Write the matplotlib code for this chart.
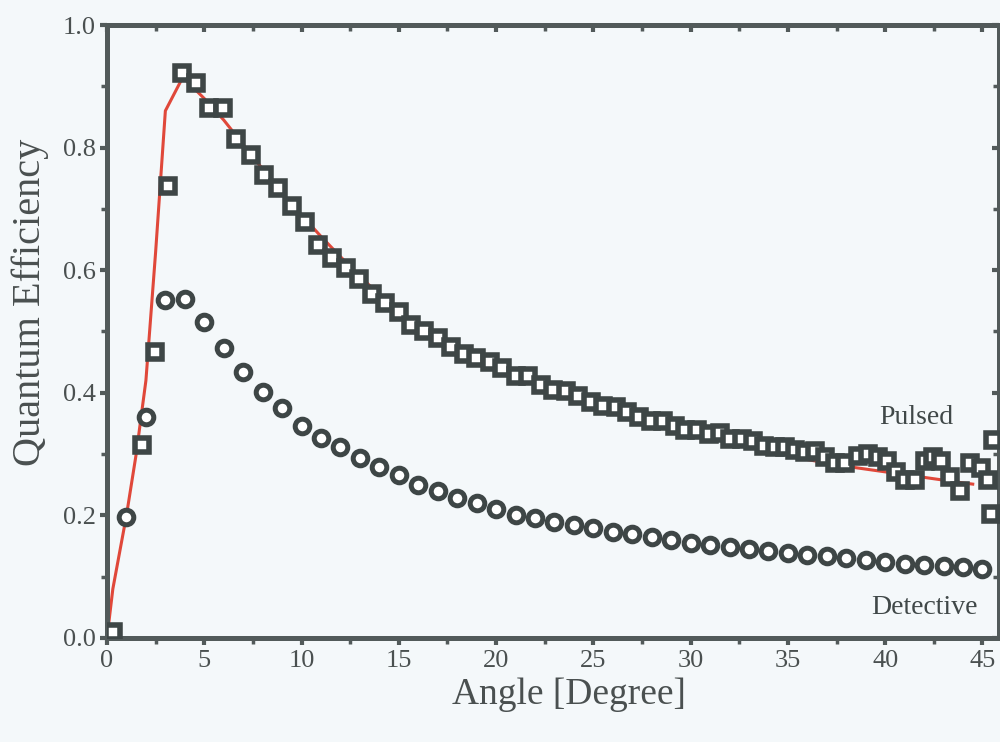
import matplotlib
matplotlib.use("Agg")
import matplotlib.pyplot as plt
from matplotlib.ticker import MultipleLocator

# Detective quantum efficiency (circles), one point per degree
det_x = [1, 2, 3, 4, 5, 6, 7, 8, 9, 10, 11, 12, 13, 14, 15, 16, 17, 18, 19, 20,
         21, 22, 23, 24, 25, 26, 27, 28, 29, 30, 31, 32, 33, 34, 35, 36, 37, 38,
         39, 40, 41, 42, 43, 44, 45]
det_y = [0.198, 0.361, 0.552, 0.553, 0.516, 0.473, 0.434, 0.402, 0.375, 0.346,
         0.326, 0.311, 0.293, 0.279, 0.266, 0.250, 0.239, 0.228, 0.220, 0.210,
         0.201, 0.195, 0.190, 0.184, 0.179, 0.173, 0.169, 0.164, 0.160, 0.155,
         0.151, 0.148, 0.145, 0.142, 0.139, 0.136, 0.133, 0.130, 0.127, 0.124,
         0.121, 0.119, 0.117, 0.115, 0.112]

# Pulsed quantum efficiency (squares)
pul_x = [0.3, 1.78, 2.46, 3.14, 3.88, 4.56, 5.23, 5.96, 6.65, 7.38, 8.05, 8.77,
         9.49, 10.19, 10.86, 11.54, 12.26, 12.96, 13.63, 14.31, 14.99, 15.63,
         16.31, 16.99, 17.68, 18.36, 18.99, 19.68, 20.32, 21.01, 21.66, 22.29,
         22.94, 23.57, 24.22, 24.86, 25.49, 26.14, 26.73, 27.33, 27.98, 28.56,
         29.18, 29.73, 30.32, 30.92, 31.52, 32.03, 32.63, 33.23, 33.79, 34.34,
         34.85, 35.37, 35.88, 36.40, 36.90, 37.42, 37.93, 38.62, 39.13, 39.64,
         40.07, 40.58, 41.00, 41.52, 42.04, 42.46, 42.89, 43.32, 43.83, 44.34,
         44.94, 45.28, 45.45, 45.54]
pul_y = [0.010, 0.315, 0.467, 0.737, 0.922, 0.905, 0.865, 0.865, 0.814, 0.788,
         0.755, 0.734, 0.705, 0.679, 0.641, 0.620, 0.603, 0.586, 0.561, 0.546,
         0.532, 0.510, 0.500, 0.489, 0.475, 0.464, 0.456, 0.450, 0.440, 0.427,
         0.427, 0.412, 0.405, 0.403, 0.394, 0.385, 0.378, 0.377, 0.368, 0.361,
         0.354, 0.354, 0.345, 0.340, 0.339, 0.332, 0.335, 0.324, 0.324, 0.321,
         0.313, 0.312, 0.312, 0.307, 0.304, 0.305, 0.296, 0.285, 0.286, 0.297,
         0.300, 0.295, 0.288, 0.271, 0.258, 0.258, 0.288, 0.296, 0.288, 0.263,
         0.239, 0.285, 0.277, 0.258, 0.203, 0.323]

# Model curve (red line)
fit_x = [0, 0.3, 1.0, 1.5, 2.0, 2.5, 3.0, 3.9, 5, 6, 7, 8, 9, 10, 11, 12, 13, 14,
         15, 16, 17, 18, 19, 20, 22, 24, 26, 28, 30, 32, 34, 36, 38, 40, 42, 44, 44.5]
fit_y = [0.0, 0.08, 0.20, 0.30, 0.42, 0.63, 0.86, 0.915, 0.88, 0.845, 0.805,
         0.765, 0.725, 0.69, 0.655, 0.622, 0.59, 0.56, 0.533, 0.508, 0.488,
         0.470, 0.455, 0.441, 0.416, 0.395, 0.376, 0.357, 0.340, 0.323, 0.306,
         0.291, 0.280, 0.271, 0.262, 0.253, 0.251]

x_ticks = [0, 5, 10, 15, 20, 25, 30, 35, 40, 45]
y_ticks = [0.0, 0.2, 0.4, 0.6, 0.8, 1.0]

bg = "#f4f8fa"
dark = "#3e4646"
spine_c = "#525a5a"

plt.rcParams['font.family'] = ['Liberation Serif', 'DejaVu Serif']

fig = plt.figure(figsize=(10, 7.42), dpi=100, facecolor=bg)
ax = fig.add_axes([0.107, 0.1402, 0.892, 0.8261], facecolor=bg)

ax.plot(fit_x, fit_y, color="#e0483a", lw=2.2, zorder=2)
ax.plot(pul_x, pul_y, linestyle='none', marker='s', markersize=10.5,
        markerfacecolor='white', markeredgecolor=dark, markeredgewidth=4.0, zorder=3)
ax.plot(det_x, det_y, linestyle='none', marker='o', markersize=10.5,
        markerfacecolor='white', markeredgecolor=dark, markeredgewidth=3.6, zorder=3)

ax.set_xlim(0, 45.85)
ax.set_ylim(0, 1.0)
ax.set_xticks(x_ticks)
ax.set_yticks(y_ticks)
ax.set_yticklabels([f"{v:.1f}" for v in y_ticks])
ax.xaxis.set_minor_locator(MultipleLocator(2.5))
ax.yaxis.set_minor_locator(MultipleLocator(0.1))

for s in ax.spines.values():
    s.set_linewidth(3.6)
    s.set_color(spine_c)

ax.tick_params(axis='both', which='both', direction='out', color=spine_c,
               labelcolor="#4a5050", labelsize=19)
ax.tick_params(which='major', length=5, width=3)
ax.tick_params(which='minor', length=4, width=2.5)
ax.tick_params(axis='x', pad=4)
ax.tick_params(axis='y', pad=3)

# inward ticks on top and right
axt = ax.secondary_xaxis('top')
axt.set_xticks(x_ticks)
axt.xaxis.set_minor_locator(MultipleLocator(2.5))
axt.tick_params(which='both', direction='in', labeltop=False, color=spine_c)
axt.tick_params(which='major', length=5, width=3)
axt.tick_params(which='minor', length=4, width=2.5)
axt.spines['top'].set_visible(False)
axr = ax.secondary_yaxis('right')
axr.set_yticks(y_ticks)
axr.yaxis.set_minor_locator(MultipleLocator(0.1))
axr.tick_params(which='both', direction='in', labelright=False, color=spine_c)
axr.tick_params(which='major', length=5, width=3)
axr.tick_params(which='minor', length=4, width=2.5)
axr.spines['right'].set_visible(False)

ax.set_xlabel("Angle [Degree]", fontsize=27, color="#4a5050")
ax.set_ylabel("Quantum Efficiency", fontsize=29, color="#4a5050")
ax.xaxis.set_label_coords(0.518, -0.064)
ax.yaxis.set_label_coords(-0.065, 0.548)

ax.text(41.6, 0.36, "Pulsed", fontsize=20, color="#404848", ha='center', va='center')
ax.text(42.0, 0.05, "Detective", fontsize=20, color="#404848", ha='center', va='center')

fig.savefig("out.png", dpi=100, facecolor=bg)
